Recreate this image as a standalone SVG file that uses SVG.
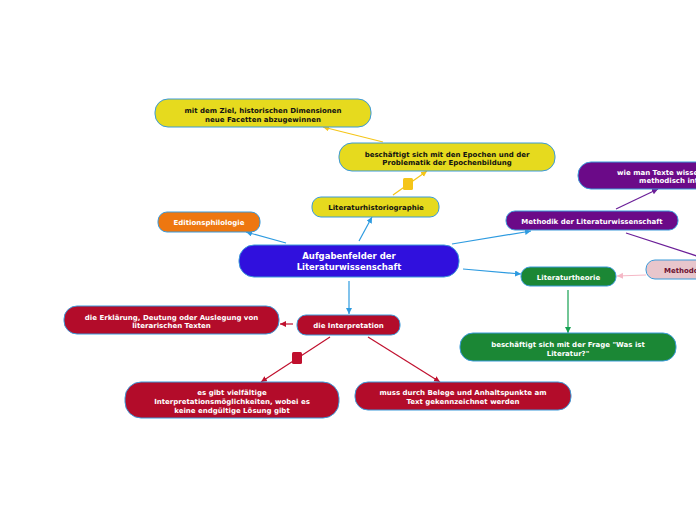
<svg xmlns="http://www.w3.org/2000/svg" width="696" height="520" viewBox="0 0 696 520">
<style>
.n{stroke:#3a9ad9;stroke-width:1}
.t{font-family:"DejaVu Sans",sans-serif;font-weight:bold;font-size:7px;text-anchor:middle}
.w{fill:#ffffff}
.k{fill:#111111}
.c{fill:none;stroke-width:1.2}
</style>
<defs>
<marker id="ab" markerUnits="userSpaceOnUse" markerWidth="8" markerHeight="8" refX="6" refY="3" orient="auto"><path d="M0,0 L6,3 L0,6 z" fill="#2e9be0"/></marker>
<marker id="ay" markerUnits="userSpaceOnUse" markerWidth="8" markerHeight="8" refX="6" refY="3" orient="auto"><path d="M0,0 L6,3 L0,6 z" fill="#f5c518"/></marker>
<marker id="ap" markerUnits="userSpaceOnUse" markerWidth="8" markerHeight="8" refX="6" refY="3" orient="auto"><path d="M0,0 L6,3 L0,6 z" fill="#6b1f98"/></marker>
<marker id="ak" markerUnits="userSpaceOnUse" markerWidth="8" markerHeight="8" refX="6" refY="3" orient="auto"><path d="M0,0 L6,3 L0,6 z" fill="#f5b8c6"/></marker>
<marker id="ag" markerUnits="userSpaceOnUse" markerWidth="8" markerHeight="8" refX="6" refY="3" orient="auto"><path d="M0,0 L6,3 L0,6 z" fill="#14a050"/></marker>
<marker id="ar" markerUnits="userSpaceOnUse" markerWidth="8" markerHeight="8" refX="6" refY="3" orient="auto"><path d="M0,0 L6,3 L0,6 z" fill="#c0102e"/></marker>
</defs>
<rect width="696" height="520" fill="#ffffff"/>
<g id="connectors">
<line class="c" x1="359" y1="241" x2="372" y2="217" stroke="#2e9be0" marker-end="url(#ab)"/>
<line class="c" x1="286" y1="243" x2="246" y2="232" stroke="#2e9be0" marker-end="url(#ab)"/>
<line class="c" x1="452" y1="244" x2="531" y2="231" stroke="#2e9be0" marker-end="url(#ab)"/>
<line class="c" x1="463" y1="269" x2="521" y2="274" stroke="#2e9be0" marker-end="url(#ab)"/>
<line class="c" x1="349" y1="281" x2="349" y2="314" stroke="#2e9be0" marker-end="url(#ab)"/>
<line class="c" x1="393" y1="195" x2="427" y2="171" stroke="#f5c518" marker-end="url(#ay)"/>
<rect x="403" y="178" width="10" height="12" rx="1.5" fill="#f5c518"/>
<line class="c" x1="383" y1="142" x2="323" y2="127" stroke="#f5c518" marker-end="url(#ay)"/>
<line class="c" x1="616" y1="209" x2="658" y2="189" stroke="#6b1f98" marker-end="url(#ap)"/>
<line class="c" x1="626" y1="233" x2="706" y2="259" stroke="#6b1f98" marker-end="url(#ap)"/>
<line class="c" x1="646" y1="275" x2="617" y2="276" stroke="#f5b8c6" marker-end="url(#ak)"/>
<line class="c" x1="568" y1="290" x2="568" y2="333" stroke="#14a050" marker-end="url(#ag)"/>
<line class="c" x1="293" y1="324" x2="280" y2="324" stroke="#c0102e" marker-end="url(#ar)"/>
<line class="c" x1="330" y1="337" x2="261" y2="382" stroke="#c0102e" marker-end="url(#ar)"/>
<rect x="292" y="352" width="10" height="12" rx="1.5" fill="#c0102e"/>
<line class="c" x1="368" y1="337" x2="440" y2="382" stroke="#c0102e" marker-end="url(#ar)"/>
</g>
<g id="center">
<rect class="n" x="239" y="245" width="220" height="32" rx="15" fill="#3010dd"/>
<text class="t w" x="349" y="259" style="font-size:8.5px">Aufgabenfelder der</text>
<text class="t w" x="349" y="270" style="font-size:8.5px">Literaturwissenschaft</text>
</g>
<g id="literaturhistoriographie">
<rect class="n" x="312" y="197" width="127" height="20" rx="9" fill="#e6da1e"/>
<text class="t k" x="376" y="210">Literaturhistoriographie</text>
</g>
<g id="epochen">
<rect class="n" x="339" y="143" width="216" height="28" rx="13" fill="#e6da1e"/>
<text class="t k" x="447" y="156.5">beschäftigt sich mit den Epochen und der</text>
<text class="t k" x="447" y="164.5">Problematik der Epochenbildung</text>
</g>
<g id="ziel">
<rect class="n" x="155" y="99" width="216" height="28" rx="13" fill="#e6da1e"/>
<text class="t k" x="263" y="112.5">mit dem Ziel, historischen Dimensionen</text>
<text class="t k" x="263" y="121.5">neue Facetten abzugewinnen</text>
</g>
<g id="editionsphilologie">
<rect class="n" x="158" y="212" width="102" height="20" rx="9" fill="#ee7710"/>
<text class="t w" x="209" y="225">Editionsphilologie</text>
</g>
<g id="methodik">
<rect class="n" x="506" y="211" width="172" height="19" rx="9" fill="#6b0a88"/>
<text class="t w" x="592" y="223.5">Methodik der Literaturwissenschaft</text>
</g>
<g id="wie-man">
<rect class="n" x="578" y="162" width="220" height="27" rx="13" fill="#6b0a88"/>
<text class="t w" x="688" y="174.5">wie man Texte wissenschaftlich und</text>
<text class="t w" x="688" y="182.5">methodisch interpretiert</text>
</g>
<g id="methodologie">
<rect class="n" x="646" y="260" width="90" height="19" rx="9" fill="#e8c6cc"/>
<text class="t" x="691" y="272.5" fill="#6b1030">Methodologie</text>
</g>
<g id="literaturtheorie">
<rect class="n" x="521" y="267" width="95" height="19" rx="9" fill="#1b8735"/>
<text class="t w" x="568.5" y="279.5">Literaturtheorie</text>
</g>
<g id="frage">
<rect class="n" x="460" y="333" width="216" height="28" rx="13" fill="#1b8735"/>
<text class="t w" x="568" y="346.5">beschäftigt sich mit der Frage "Was ist</text>
<text class="t w" x="568" y="355.5">Literatur?"</text>
</g>
<g id="interpretation">
<rect class="n" x="297" y="315" width="103" height="20" rx="9" fill="#b30c2a"/>
<text class="t w" x="348.5" y="327.5">die Interpretation</text>
</g>
<g id="erklaerung">
<rect class="n" x="64" y="306" width="215" height="28" rx="13" fill="#b30c2a"/>
<text class="t w" x="171.5" y="319.5">die Erklärung, Deutung oder Auslegung von</text>
<text class="t w" x="171.5" y="327.5">literarischen Texten</text>
</g>
<g id="vielfaeltig">
<rect class="n" x="125" y="382" width="214" height="36" rx="16" fill="#b30c2a"/>
<text class="t w" x="232" y="394.5">es gibt vielfältige</text>
<text class="t w" x="232" y="403.5">Interpretationsmöglichkeiten, wobei es</text>
<text class="t w" x="232" y="412.5">keine endgültige Lösung gibt</text>
</g>
<g id="belege">
<rect class="n" x="355" y="382" width="216" height="28" rx="13" fill="#b30c2a"/>
<text class="t w" x="463" y="394.5">muss durch Belege und Anhaltspunkte am</text>
<text class="t w" x="463" y="403.5">Text gekennzeichnet werden</text>
</g>
</svg>
